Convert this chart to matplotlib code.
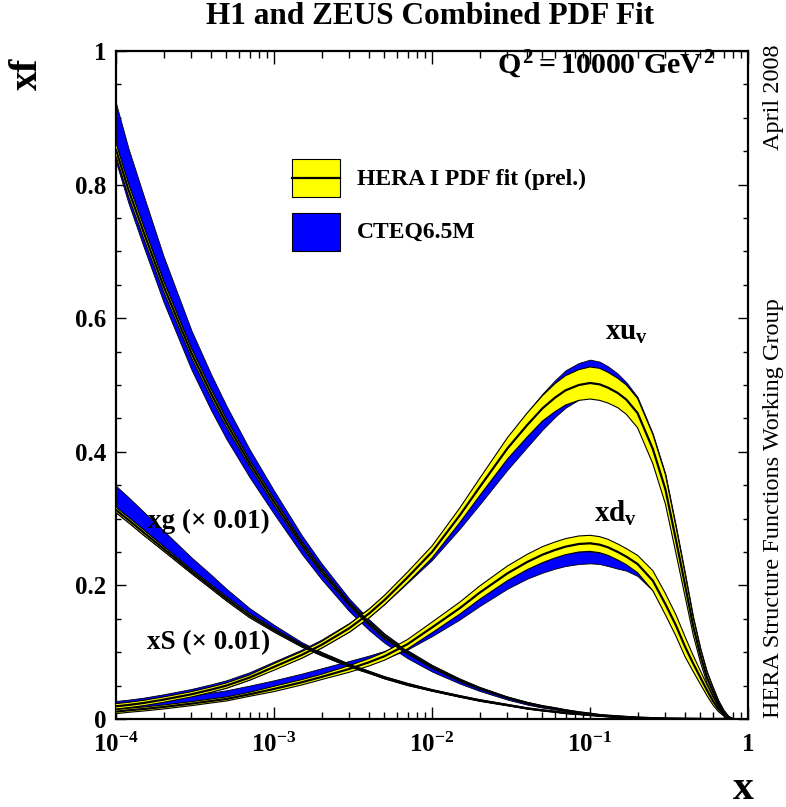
import numpy as np
import matplotlib.pyplot as plt
from matplotlib.patches import Rectangle
from matplotlib.lines import Line2D
from matplotlib.ticker import FixedLocator, LogLocator, MultipleLocator, NullFormatter

plt.rcParams['font.family'] = ['Liberation Serif', 'DejaVu Serif']
plt.rcParams['font.weight'] = 'bold'
plt.rcParams['mathtext.fontset'] = 'custom'
plt.rcParams['mathtext.rm'] = 'Liberation Serif:bold'
plt.rcParams['mathtext.it'] = 'Liberation Serif:bold'
plt.rcParams['mathtext.bf'] = 'Liberation Serif:bold'

# x grid shared by all curves
x = [1e-4, 1.2e-4, 1.5e-4, 2e-4, 3e-4, 4e-4, 5e-4, 7e-4,
     1e-3, 1.5e-3, 2e-3, 3e-3, 4e-3, 5e-3, 7e-3,
     1e-2, 1.5e-2, 2e-2, 3e-2, 4e-2, 5e-2, 6e-2, 7e-2, 0.085,
     0.1, 0.115, 0.13, 0.15, 0.17, 0.2, 0.25, 0.3, 0.35, 0.4, 0.45,
     0.5, 0.55, 0.6, 0.65, 0.7, 0.75, 0.8]

# xg (x0.01): central, HERA half width, CTEQ offsets below / above
glu = [0.852, 0.792, 0.728, 0.648, 0.548, 0.487, 0.443, 0.383,
       0.325, 0.262, 0.222, 0.172, 0.143, 0.123, 0.099,
       0.078, 0.058, 0.046, 0.032, 0.024, 0.019, 0.016, 0.013, 0.010,
       0.008, 0.006, 0.005, 0.004, 0.003, 0.002, 0.0012, 0.0007, 0.0005, 0.0003, 0.0002,
       0.0001, 0.0, 0.0, 0.0, 0.0, 0.0, 0.0]
glu_herr = [0.010, 0.0095, 0.009, 0.008, 0.007, 0.0065, 0.006, 0.005,
            0.005, 0.004, 0.004, 0.003, 0.003, 0.003, 0.002,
            0.002, 0.002, 0.0015, 0.001, 0.001, 0.001, 0.0008, 0.0008, 0.0006,
            0.0005, 0.0004, 0.0004, 0.0003, 0.0003, 0.0002, 0.0001, 0.0001, 0.0, 0.0, 0.0,
            0.0, 0.0, 0.0, 0.0, 0.0, 0.0, 0.0]
glu_cdn = [0.018, 0.020, 0.022, 0.024, 0.025, 0.025, 0.024, 0.021,
           0.018, 0.015, 0.013, 0.011, 0.010, 0.009, 0.008,
           0.007, 0.005, 0.004, 0.003, 0.0025, 0.002, 0.0018, 0.0015, 0.0012,
           0.001, 0.0009, 0.0008, 0.0006, 0.0005, 0.0004, 0.0003, 0.0002, 0.0001, 0.0001, 0.0,
           0.0, 0.0, 0.0, 0.0, 0.0, 0.0, 0.0]
glu_cup = [0.070, 0.062, 0.055, 0.045, 0.034, 0.029, 0.026, 0.021,
           0.017, 0.013, 0.011, 0.008, 0.006, 0.005, 0.004,
           0.003, 0.002, 0.0015, 0.001, 0.001, 0.001, 0.0008, 0.0008, 0.0006,
           0.0005, 0.0004, 0.0004, 0.0003, 0.0003, 0.0002, 0.0001, 0.0001, 0.0, 0.0, 0.0,
           0.0, 0.0, 0.0, 0.0, 0.0, 0.0, 0.0]

# xS (x0.01)
sea = [0.313, 0.298, 0.279, 0.255, 0.221, 0.198, 0.180, 0.155,
       0.133, 0.110, 0.097, 0.080, 0.070, 0.062, 0.052,
       0.043, 0.034, 0.028, 0.021, 0.016, 0.013, 0.011, 0.009, 0.0075,
       0.006, 0.005, 0.004, 0.0035, 0.003, 0.002, 0.0012, 0.0007, 0.0005, 0.0003, 0.0002,
       0.0001, 0.0, 0.0, 0.0, 0.0, 0.0, 0.0]
sea_herr = [0.004, 0.004, 0.004, 0.0035, 0.003, 0.003, 0.003, 0.003,
            0.0025, 0.002, 0.002, 0.002, 0.0015, 0.0015, 0.0015,
            0.001, 0.001, 0.001, 0.0008, 0.0007, 0.0006, 0.0005, 0.0005, 0.0004,
            0.0004, 0.0003, 0.0003, 0.0002, 0.0002, 0.0002, 0.0001, 0.0001, 0.0, 0.0, 0.0,
            0.0, 0.0, 0.0, 0.0, 0.0, 0.0, 0.0]
sea_cdn = sea_herr
sea_cup = [0.036, 0.034, 0.031, 0.027, 0.021, 0.018, 0.015, 0.011,
           0.008, 0.005, 0.0035, 0.0025, 0.002, 0.0015, 0.0015,
           0.001, 0.001, 0.001, 0.0008, 0.0007, 0.0006, 0.0005, 0.0005, 0.0004,
           0.0004, 0.0003, 0.0003, 0.0002, 0.0002, 0.0002, 0.0001, 0.0001, 0.0, 0.0, 0.0,
           0.0, 0.0, 0.0, 0.0, 0.0, 0.0, 0.0]

# xu_v
xuv = [0.019, 0.021, 0.024, 0.029, 0.037, 0.044, 0.050, 0.062,
       0.078, 0.096, 0.111, 0.136, 0.158, 0.178, 0.212,
       0.250, 0.305, 0.347, 0.405, 0.440, 0.465, 0.481, 0.492, 0.500,
       0.503, 0.501, 0.496, 0.488, 0.478, 0.458, 0.404, 0.344, 0.268, 0.200, 0.139,
       0.095, 0.062, 0.041, 0.023, 0.011, 0.003, 0.0]
xuv_herr = [0.004, 0.004, 0.004, 0.004, 0.004, 0.004, 0.004, 0.004,
            0.005, 0.005, 0.005, 0.006, 0.0065, 0.007, 0.008,
            0.009, 0.011, 0.013, 0.016, 0.018, 0.019, 0.021, 0.022, 0.023,
            0.024, 0.024, 0.023, 0.022, 0.022, 0.022, 0.022, 0.022, 0.020, 0.017, 0.013,
            0.010, 0.008, 0.006, 0.004, 0.002, 0.001, 0.0]
xuv_cdn = [0.001, 0.001, 0.001, 0.002, 0.002, 0.003, 0.003, 0.003,
           0.003, 0.004, 0.004, 0.005, 0.0055, 0.006, 0.008,
           0.012, 0.020, 0.026, 0.032, 0.033, 0.032, 0.029, 0.026, 0.022,
           0.018, 0.016, 0.015, 0.014, 0.013, 0.012, 0.012, 0.012, 0.011, 0.010, 0.008,
           0.006, 0.005, 0.004, 0.003, 0.002, 0.001, 0.0]
xuv_cup = [0.008, 0.008, 0.008, 0.008, 0.008, 0.008, 0.008, 0.008,
           0.008, 0.008, 0.008, 0.008, 0.008, 0.008, 0.008,
           0.008, 0.009, 0.011, 0.015, 0.019, 0.022, 0.026, 0.030, 0.033,
           0.035, 0.034, 0.032, 0.029, 0.026, 0.024, 0.023, 0.023, 0.021, 0.018, 0.014,
           0.011, 0.009, 0.007, 0.005, 0.003, 0.002, 0.0]

# xd_v
xdv = [0.011, 0.013, 0.015, 0.018, 0.023, 0.027, 0.030, 0.037,
       0.045, 0.055, 0.063, 0.075, 0.085, 0.094, 0.112,
       0.137, 0.166, 0.189, 0.218, 0.235, 0.246, 0.253, 0.258, 0.262,
       0.263, 0.261, 0.257, 0.250, 0.243, 0.232, 0.207, 0.172, 0.140, 0.108, 0.083,
       0.062, 0.043, 0.027, 0.015, 0.007, 0.002, 0.0]
xdv_herr = [0.003, 0.003, 0.003, 0.003, 0.003, 0.003, 0.003, 0.003,
            0.004, 0.004, 0.004, 0.005, 0.0055, 0.006, 0.007,
            0.008, 0.009, 0.010, 0.011, 0.0115, 0.012, 0.012, 0.012, 0.012,
            0.012, 0.012, 0.012, 0.012, 0.012, 0.013, 0.015, 0.016, 0.016, 0.015, 0.012,
            0.010, 0.008, 0.006, 0.004, 0.002, 0.001, 0.0]
xdv_cdn = [0.001, 0.001, 0.001, 0.001, 0.001, 0.001, 0.001, 0.001,
           0.0, 0.0, 0.0, 0.001, 0.002, 0.004, 0.008,
           0.013, 0.017, 0.020, 0.023, 0.025, 0.027, 0.028, 0.029, 0.030,
           0.030, 0.029, 0.028, 0.025, 0.021, 0.018, 0.015, 0.014, 0.014, 0.013, 0.011,
           0.009, 0.007, 0.005, 0.003, 0.002, 0.001, 0.0]
xdv_cup = [0.009, 0.0095, 0.010, 0.011, 0.012, 0.0125, 0.013, 0.013,
           0.013, 0.013, 0.013, 0.012, 0.010, 0.008, 0.005,
           0.002, -0.001, -0.003, -0.005, -0.007, -0.008, -0.009, -0.010, -0.011,
           -0.012, -0.012, -0.011, -0.010, -0.009, -0.006, -0.004, -0.003, -0.002, -0.002, -0.001,
           -0.001, 0.0, 0.0, 0.0, 0.0, 0.0, 0.0]

W, H = 786, 807


def fpos(xp, yp):
    return xp / W, 1 - yp / H


fig = plt.figure(figsize=(W / 100, H / 100), dpi=100)
ax = fig.add_axes([116 / W, 1 - 719 / H, 632 / W, 668 / H])


def band(c, herr, cdn, cup):
    c, herr, cdn, cup = map(np.array, (c, herr, cdn, cup))
    ax.fill_between(x, c - cdn, c + cup, facecolor='#0000ff', edgecolor='black', lw=0.6, zorder=2)
    ax.fill_between(x, c - herr, c + herr, facecolor='#ffff00', edgecolor='none', zorder=3)
    ax.plot(x, c - herr, color='black', lw=0.8, zorder=4)
    ax.plot(x, c + herr, color='black', lw=0.8, zorder=4)
    ax.plot(x, c, color='black', lw=1.6, zorder=5)


band(glu, glu_herr, glu_cdn, glu_cup)
band(sea, sea_herr, sea_cdn, sea_cup)
band(xuv, xuv_herr, xuv_cdn, xuv_cup)
band(xdv, xdv_herr, xdv_cdn, xdv_cup)

ax.set_xscale('log')
ax.set_xlim(1e-4, 1)
ax.set_ylim(0, 1)

ax.xaxis.set_major_locator(FixedLocator([1e-4, 1e-3, 1e-2, 1e-1, 1]))
ax.set_xticklabels([r'$10^{-4}$', r'$10^{-3}$', r'$10^{-2}$', r'$10^{-1}$', '1'])
ax.xaxis.set_minor_locator(LogLocator(base=10, subs=np.arange(2, 10), numticks=20))
ax.xaxis.set_minor_formatter(NullFormatter())
ax.yaxis.set_major_locator(FixedLocator([0, 0.2, 0.4, 0.6, 0.8, 1.0]))
ax.set_yticklabels(['0', '0.2', '0.4', '0.6', '0.8', '1'])
ax.yaxis.set_minor_locator(MultipleLocator(0.05))

ax.tick_params(which='both', direction='in', top=True, right=True, width=1.0)
ax.tick_params(axis='x', which='major', length=9, pad=10, labelsize=18)
ax.tick_params(axis='x', which='minor', length=5)
ax.tick_params(axis='y', which='major', length=7, pad=7, labelsize=18)
ax.tick_params(axis='y', which='minor', length=3.5)
for s in ax.spines.values():
    s.set_linewidth(1.6)

# legend drawn by hand inside the axes
ax.add_patch(Rectangle((0.279, 0.781), 0.075, 0.057, transform=ax.transAxes,
                       facecolor='#ffff00', edgecolor='black', lw=0.8, zorder=6))
ax.add_line(Line2D([0.279, 0.354], [0.8095, 0.8095], transform=ax.transAxes,
                   color='black', lw=1.6, zorder=7))
ax.add_patch(Rectangle((0.279, 0.701), 0.075, 0.056, transform=ax.transAxes,
                       facecolor='#0000ff', edgecolor='black', lw=0.8, zorder=6))
ax.text(0.381, 0.808, 'HERA I PDF fit (prel.)', transform=ax.transAxes,
        fontsize=17, fontweight='bold', va='center', ha='left')
ax.text(0.381, 0.728, 'CTEQ6.5M', transform=ax.transAxes,
        fontsize=17, fontweight='bold', va='center', ha='left')

# curve labels
fig.text(*fpos(626, 332), r'$xu_v$', fontsize=21, ha='center', va='center')
fig.text(*fpos(615, 513), r'$xd_v$', fontsize=21, ha='center', va='center')
fig.text(*fpos(148, 521), 'xg (\u00d7 0.01)', fontsize=19.5, fontweight='bold', ha='left', va='center')
fig.text(*fpos(147, 643), 'xS (\u00d7 0.01)', fontsize=19.5, fontweight='bold', ha='left', va='center')
fig.text(*fpos(715, 74), r'$Q^2 = 10000\ GeV^2$', fontsize=21.5, ha='right', va='baseline')

# titles and side notes
fig.text(*fpos(430, 17), 'H1 and ZEUS Combined PDF Fit', fontsize=22.5, fontweight='bold',
         ha='center', va='center')
fig.text(*fpos(27, 74), 'xf', fontsize=28, fontweight='bold', rotation=90,
         ha='center', va='center')
fig.text(*fpos(743, 789), 'x', fontsize=30, fontweight='bold', ha='center', va='center')
fig.text(*fpos(773, 44), 'April 2008', fontsize=17.5, fontweight='normal', rotation=90,
         ha='center', va='top')
fig.text(*fpos(773, 718), 'HERA Structure Functions Working Group', fontsize=17.5,
         fontweight='normal', rotation=90, ha='center', va='bottom')

fig.savefig('out.png', dpi=100)
